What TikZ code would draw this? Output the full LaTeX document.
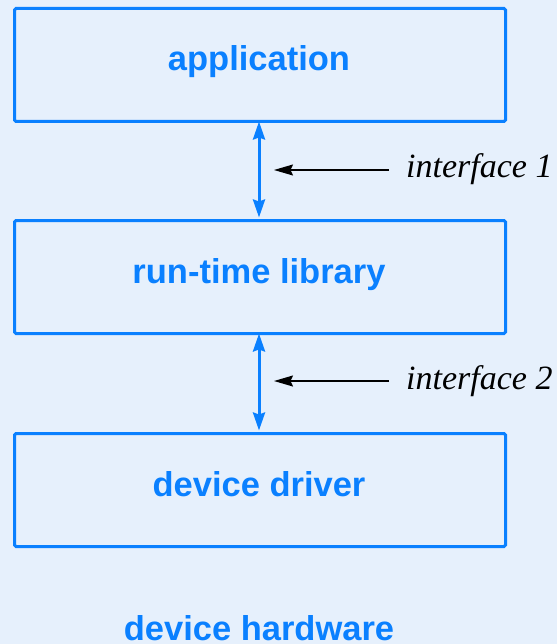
\documentclass[tikz,border=0pt]{standalone}
\usepackage{fontspec}
\setmainfont{Liberation Serif}
\setsansfont{Liberation Sans}
\usetikzlibrary{arrows.meta}
\definecolor{bg}{HTML}{E6F0FC}
\definecolor{bl}{HTML}{0A80FF}
\begin{document}
\begin{tikzpicture}[x=1pt,y=-1pt,
  layer/.style={draw=bl,line width=3pt,rounded corners=1.5pt,minimum width=491pt,minimum height=113pt,inner sep=0pt,anchor=north west},
  lbl/.style={text=bl,font=\sffamily\bfseries\fontsize{34.5}{38}\selectfont,anchor=base,inner sep=0pt},
  iface/.style={font=\itshape\fontsize{34}{38}\selectfont,anchor=base west,inner sep=0pt},
  darr/.style={draw=bl,line width=3pt,{Stealth[length=18pt,width=12pt,inset=2pt]}-{Stealth[length=18pt,width=12pt,inset=2pt]},shorten <=1.5pt,shorten >=1.5pt},
  harr/.style={draw=black,line width=1.4pt,-{Stealth[length=19pt,width=11pt,inset=2.5pt]}}]
\fill[bg] (0,0) rectangle (557,644);
\useasboundingbox (0,0) rectangle (557,644);
\node[layer] (app) at (13,7) {};
\node[layer] (rtl) at (13,219) {};
\node[layer] (drv) at (13,432) {};
\node[lbl] (tapp) at (259,71) {application};
\node[lbl] (trtl) at (259,283) {run-time library};
\node[lbl] (tdrv) at (259,496) {device driver};
\node[lbl] (thw) at (259,640) {device hardware};
\coordinate (a1t) at (259,120);
\coordinate (a1b) at (259,219);
\coordinate (a2t) at (259,332);
\coordinate (a2b) at (259,432);
\draw[darr] (a1t) -- (a1b);
\draw[darr] (a2t) -- (a2b);
\node[iface] (if1) at (406,178) {interface 1};
\node[iface] (if2) at (406,389) {interface 2};
\coordinate (h1s) at (389,170);
\coordinate (h1e) at (274,170);
\coordinate (h2s) at (389,381);
\coordinate (h2e) at (274,381);
\draw[harr] (h1s) -- (h1e);
\draw[harr] (h2s) -- (h2e);
\end{tikzpicture}
\end{document}
